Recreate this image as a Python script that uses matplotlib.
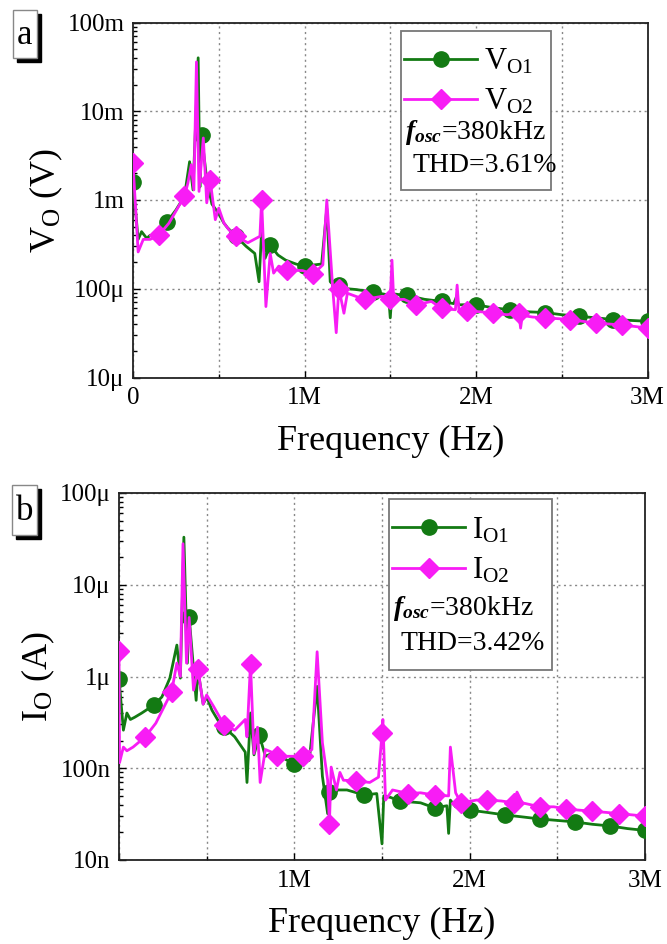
import numpy as np
import matplotlib
matplotlib.use("Agg")
import matplotlib.pyplot as plt
from matplotlib.lines import Line2D
from matplotlib.patches import Rectangle

plt.rcParams['font.family'] = ['Liberation Serif', 'DejaVu Serif']
plt.rcParams['mathtext.fontset'] = 'custom'
plt.rcParams['mathtext.rm'] = 'Liberation Serif'
plt.rcParams['mathtext.it'] = 'Liberation Serif:italic'
plt.rcParams['mathtext.bf'] = 'Liberation Serif:bold'
plt.rcParams['mathtext.bfit'] = 'Liberation Serif:bold:italic'

# ---------------- data (frequency in MHz) ----------------
f_vo1 = [0.0, 0.03, 0.05, 0.08, 0.10, 0.13, 0.16, 0.20, 0.25, 0.30, 0.33, 0.35, 0.38, 0.39, 0.40,
         0.43, 0.46, 0.50, 0.53, 0.55, 0.60, 0.66, 0.71, 0.735, 0.75, 0.77, 0.80, 0.845, 0.89, 0.95,
         1.00, 1.05, 1.10, 1.13, 1.15, 1.18, 1.20, 1.25, 1.30, 1.35, 1.40, 1.45, 1.49, 1.50, 1.51,
         1.55, 1.60, 1.70, 1.80, 1.87, 1.885, 1.90, 2.00, 2.10, 2.20, 2.26, 2.30, 2.40, 2.50, 2.60,
         2.70, 2.80, 2.90, 3.00]
v_vo1 = [1.6e-3, 3.6e-4, 4.4e-4, 3.7e-4, 4.0e-4, 3.8e-4, 4.3e-4, 5.7e-4, 7.7e-4, 1.1e-3, 2.7e-3, 1.3e-3, 4.0e-2, 1.4e-3, 5.4e-3,
         1.7e-3, 9.0e-4, 7.0e-4, 5.5e-4, 4.9e-4, 3.9e-4, 3.0e-4, 2.5e-4, 1.2e-4, 4.5e-4, 2.2e-4, 3.1e-4, 2.4e-4, 2.1e-4, 1.9e-4,
         1.8e-4, 1.85e-4, 1.9e-4, 8.0e-4, 1.2e-4, 1.05e-4, 1.1e-4, 1.0e-4, 9.8e-5, 9.5e-5, 9.3e-5, 8.8e-5, 8.5e-5, 4.7e-5, 8.8e-5,
         8.6e-5, 8.4e-5, 7.6e-5, 7.2e-5, 6.8e-5, 8.0e-5, 6.6e-5, 6.6e-5, 6.1e-5, 5.8e-5, 5.6e-5, 5.5e-5, 5.4e-5, 5.1e-5, 4.9e-5,
         4.7e-5, 4.5e-5, 4.4e-5, 4.3e-5]

f_vo2 = [0.0, 0.03, 0.06, 0.10, 0.15, 0.21, 0.30, 0.32, 0.34, 0.355, 0.37, 0.385, 0.41, 0.43, 0.45,
         0.48, 0.50, 0.53, 0.56, 0.60, 0.67, 0.74, 0.75, 0.775, 0.80, 0.82, 0.85, 0.90, 0.99, 1.05,
         1.107, 1.13, 1.165, 1.185, 1.20, 1.21, 1.23, 1.25, 1.30, 1.35, 1.45, 1.50, 1.51, 1.52, 1.58,
         1.65, 1.74, 1.80, 1.88, 1.89, 1.90, 1.95, 2.03, 2.10, 2.18, 2.25, 2.26, 2.27, 2.33, 2.40,
         2.48, 2.55, 2.62, 2.70, 2.78, 2.85, 2.93, 3.00]
v_vo2 = [2.6e-3, 2.6e-4, 3.6e-4, 3.6e-4, 4.0e-4, 5.5e-4, 1.1e-3, 1.55e-3, 2.5e-3, 1.3e-3, 3.6e-2, 1.25e-3, 5.0e-3, 9.3e-4, 1.67e-3,
         6.0e-4, 8.1e-4, 5.5e-4, 4.6e-4, 3.9e-4, 3.3e-4, 3.9e-4, 1.0e-3, 6.3e-5, 2.5e-4, 1.5e-4, 1.8e-4, 1.63e-4, 1.6e-4, 1.45e-4,
         1.86e-4, 1.0e-3, 9.8e-5, 3.2e-5, 1.0e-4, 8.2e-5, 5.3e-5, 8.9e-5, 8.2e-5, 7.6e-5, 8.2e-5, 7.6e-5, 2.1e-4, 7.5e-5, 7.6e-5,
         6.6e-5, 7.2e-5, 6.0e-5, 5.8e-5, 1.1e-4, 5.8e-5, 5.6e-5, 5.5e-5, 5.3e-5, 5.1e-5, 5.3e-5, 3.6e-5, 5.0e-5, 4.8e-5, 4.7e-5,
         4.6e-5, 4.5e-5, 4.3e-5, 4.1e-5, 4.0e-5, 3.9e-5, 3.75e-5, 3.6e-5]

f_io1 = [0.0, 0.025, 0.045, 0.065, 0.09, 0.13, 0.20, 0.245, 0.29, 0.33, 0.35, 0.37, 0.39, 0.40, 0.44,
         0.45, 0.48, 0.50, 0.53, 0.57, 0.60, 0.66, 0.72, 0.73, 0.75, 0.77, 0.80, 0.835, 0.89, 0.95,
         1.00, 1.085, 1.13, 1.16, 1.19, 1.20, 1.22, 1.25, 1.30, 1.40, 1.47, 1.50, 1.51, 1.55, 1.60,
         1.72, 1.80, 1.87, 1.88, 1.89, 1.92, 2.00, 2.10, 2.20, 2.30, 2.40, 2.50, 2.60, 2.70, 2.80,
         2.90, 3.00]
v_io1 = [9.5e-7, 2.6e-7, 4.0e-7, 3.4e-7, 3.6e-7, 4.0e-7, 4.9e-7, 6.0e-7, 9.6e-7, 2.2e-6, 9.6e-7, 3.3e-5, 1.4e-6, 4.5e-6, 5.5e-7,
         1.2e-6, 5.0e-7, 6.0e-7, 4.3e-7, 3.2e-7, 2.8e-7, 2.2e-7, 1.5e-7, 7.0e-8, 4.0e-7, 1.4e-7, 2.3e-7, 1.35e-7, 1.5e-7, 1.25e-7,
         1.1e-7, 1.22e-7, 7.8e-7, 8.2e-8, 3.2e-8, 5.5e-8, 5.4e-8, 5.8e-8, 5.8e-8, 5.1e-8, 5.3e-8, 1.5e-8, 5.0e-8, 4.8e-8, 4.4e-8,
         4.2e-8, 3.7e-8, 3.9e-8, 1.95e-8, 4.5e-8, 3.8e-8, 3.5e-8, 3.3e-8, 3.1e-8, 2.95e-8, 2.8e-8, 2.7e-8, 2.6e-8, 2.45e-8, 2.35e-8,
         2.2e-8, 2.1e-8]

f_io2 = [0.0, 0.003, 0.025, 0.045, 0.08, 0.15, 0.21, 0.30, 0.33, 0.35, 0.365, 0.385, 0.40, 0.425, 0.45,
         0.48, 0.50, 0.54, 0.60, 0.66, 0.72, 0.73, 0.75, 0.77, 0.79, 0.805, 0.835, 0.87, 0.90, 0.97,
         1.05, 1.10, 1.13, 1.16, 1.19, 1.20, 1.21, 1.24, 1.26, 1.28, 1.35, 1.43, 1.48, 1.50, 1.505,
         1.52, 1.56, 1.65, 1.72, 1.80, 1.88, 1.89, 1.92, 1.95, 2.04, 2.10, 2.18, 2.25, 2.27, 2.30,
         2.40, 2.48, 2.55, 2.62, 2.70, 2.78, 2.85, 2.93, 3.00]
v_io2 = [1.9e-6, 1.15e-7, 1.7e-7, 1.55e-7, 1.7e-7, 2.2e-7, 3.1e-7, 6.8e-7, 1.4e-6, 1.0e-6, 2.8e-5, 1.4e-6, 4.4e-6, 7.1e-7, 1.2e-6,
         5.0e-7, 6.3e-7, 4.7e-7, 2.95e-7, 2.6e-7, 3.4e-7, 2.2e-7, 1.38e-6, 1.45e-7, 2.8e-7, 7.0e-8, 1.6e-7, 1.5e-7, 1.35e-7, 1.35e-7,
         1.35e-7, 1.6e-7, 1.86e-6, 1.9e-7, 7.4e-8, 2.45e-8, 1.03e-7, 5.8e-8, 9.0e-8, 7.4e-8, 7.3e-8, 7.0e-8, 8.0e-8, 2.4e-7, 3.4e-7,
         4.5e-8, 5.8e-8, 5.3e-8, 5.4e-8, 5.1e-8, 5.0e-8, 1.7e-7, 5.4e-8, 4.2e-8, 4.5e-8, 4.5e-8, 4.4e-8, 4.2e-8, 5.5e-8, 4.2e-8,
         3.8e-8, 3.8e-8, 3.6e-8, 3.5e-8, 3.4e-8, 3.3e-8, 3.2e-8, 3.1e-8, 3.0e-8]

# marker frequencies (MHz)
mk_green = [0.0, 0.2, 0.4, 0.6, 0.8, 1.0, 1.2, 1.4, 1.6, 1.8, 2.0, 2.2, 2.4, 2.6, 2.8, 3.0]
mk_pink = [0.0, 0.15, 0.3, 0.45, 0.6, 0.75, 0.9, 1.05, 1.2, 1.35, 1.5, 1.65, 1.8, 1.95, 2.1, 2.25,
           2.4, 2.55, 2.7, 2.85, 3.0]

x_ticks = [0, 1, 2, 3]
x_labels_a = ['0', '1M', '2M', '3M']
x_labels_b = ['', '1M', '2M', '3M']
y_ticks_a = [1e-5, 1e-4, 1e-3, 1e-2, 1e-1]
y_labels_a = ['10\u03bc', '100\u03bc', '1m', '10m', '100m']
y_ticks_b = [1e-8, 1e-7, 1e-6, 1e-5, 1e-4]
y_labels_b = ['10n', '100n', '1\u03bc', '10\u03bc', '100\u03bc']

GREEN = '#137a13'
PINK = '#f81cf5'


def mk_idx(freqs, marks):
    fa = np.round(np.asarray(freqs), 4)
    return [int(np.where(fa == round(m, 4))[0][0]) for m in marks]


W, H = 667, 944
fig = plt.figure(figsize=(W / 100, H / 100), dpi=100)


def fpos(x0, y0, x1, y1):
    return [x0 / W, 1 - y1 / H, (x1 - x0) / W, (y1 - y0) / H]


def setup(ax, yt, yl, xl, ylab):
    ax.set_yscale('log')
    ax.set_xlim(0, 3)
    ax.set_ylim(yt[0], yt[-1])
    ax.set_xticks(x_ticks)
    ax.set_xticklabels(xl)
    ax.set_xticks([0.5, 1.5, 2.5], minor=True)
    ax.set_yticks(yt)
    ax.set_yticklabels(yl)
    ax.yaxis.set_minor_locator(matplotlib.ticker.LogLocator(base=10, subs=np.arange(2, 10)))
    ax.yaxis.set_minor_formatter(matplotlib.ticker.NullFormatter())
    ax.tick_params(axis='both', which='both', direction='in', top=False, right=False, labelsize=18)
    ax.tick_params(axis='both', which='major', length=5, width=1)
    ax.tick_params(axis='both', which='minor', length=3, width=1)
    ax.tick_params(axis='y', which='major', pad=6)
    ax.tick_params(axis='x', which='major', pad=7)
    ax.grid(True, which='major', axis='both', color='#888888', linestyle=(0, (1.5, 2.5)), linewidth=1)
    ax.grid(True, which='minor', axis='x', color='#888888', linestyle=(0, (1.5, 2.5)), linewidth=1)
    for s in ax.spines.values():
        s.set_linewidth(1.3)
        s.set_color('#222222')
    ax.set_xlabel('Frequency (Hz)', fontsize=26, labelpad=11)
    ax.set_ylabel(ylab, fontsize=26, labelpad=2)


def legend_box(ax, l1, l2, thd, box):
    x0, y0, x1, y1 = box  # axes fraction
    ax.add_patch(Rectangle((x0, y0), x1 - x0, y1 - y0, transform=ax.transAxes, fill=True,
                           facecolor='white', edgecolor='#777777', linewidth=1.3, zorder=5))
    h1 = Line2D([], [], color=GREEN, lw=2, marker='o', ms=11)
    h2 = Line2D([], [], color=PINK, lw=2, marker='D', ms=10)
    leg = ax.legend([h1, h2], [l1, l2], loc='upper left', bbox_to_anchor=(x0 + 0.006, y1 - 0.045),
                    frameon=False, fontsize=22, handlelength=2.4, handletextpad=0.2,
                    labelspacing=0.35, borderaxespad=0.0, borderpad=0.0)
    leg.set_zorder(6)
    ax.text(x0 + 0.008, y1 - 0.64 * (y1 - y0), r'$\mathbfit{f}_{\mathbfit{osc}}$=380kHz',
            transform=ax.transAxes, fontsize=20, va='center', ha='left', zorder=7)
    ax.text(x0 + 0.022, y1 - 0.845 * (y1 - y0), thd, transform=ax.transAxes,
            fontsize=20, va='center', ha='left', zorder=7)


def panel_label(txt, x0, y0, x1, y1):
    fig.patches.append(Rectangle(((x0 + 4) / W, 1 - (y1 + 4) / H), (x1 - x0) / W, (y1 - y0) / H,
                                 transform=fig.transFigure, facecolor='black', edgecolor='black'))
    fig.patches.append(Rectangle((x0 / W, 1 - y1 / H), (x1 - x0) / W, (y1 - y0) / H,
                                 transform=fig.transFigure, facecolor='white', edgecolor='#888888', lw=1))
    fig.text((x0 + x1) / 2 / W, 1 - ((y0 + y1) / 2 + 1) / H, txt, fontsize=25, ha='center', va='center')


# ---------------- panel a ----------------
axa = fig.add_axes(fpos(133, 22.5, 647.5, 377.5))
axa.plot(f_vo1, v_vo1, color=GREEN, lw=2, marker='o', ms=11, markevery=mk_idx(f_vo1, mk_green), zorder=3)
axa.plot(f_vo2, v_vo2, color=PINK, lw=2, marker='D', ms=10, markevery=mk_idx(f_vo2, mk_pink), zorder=4)
setup(axa, y_ticks_a, y_labels_a, x_labels_a, r'V$_{\mathrm{O}}$ (V)')
legend_box(axa, r'V$_{\mathrm{O1}}$', r'V$_{\mathrm{O2}}$', 'THD=3.61%',
           ((401 - 133) / 514.5, 1 - (190 - 22.5) / 355, (551 - 133) / 514.5, 1 - (31 - 22.5) / 355))
panel_label('a', 13, 10, 37, 58)

# ---------------- panel b ----------------
axb = fig.add_axes(fpos(119, 493, 645, 860))
axb.plot(f_io1, v_io1, color=GREEN, lw=2, marker='o', ms=11, markevery=mk_idx(f_io1, mk_green), zorder=3)
axb.plot(f_io2, v_io2, color=PINK, lw=2, marker='D', ms=10, markevery=mk_idx(f_io2, mk_pink), zorder=4)
setup(axb, y_ticks_b, y_labels_b, x_labels_b, r'I$_{\mathrm{O}}$ (A)')
legend_box(axb, r'I$_{\mathrm{O1}}$', r'I$_{\mathrm{O2}}$', 'THD=3.42%',
           ((389 - 119) / 526, 1 - (670 - 493) / 367, (552 - 119) / 526, 1 - (499 - 493) / 367))
panel_label('b', 12, 485, 37, 535)

fig.savefig('out.png', dpi=100)
